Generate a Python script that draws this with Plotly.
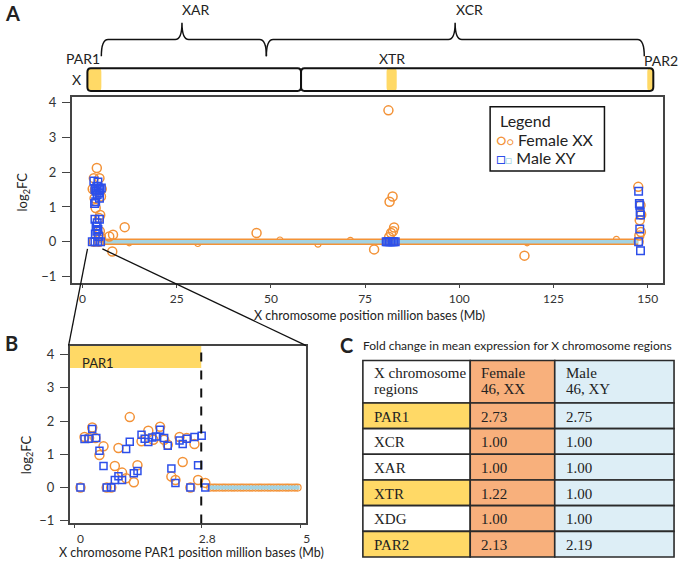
import plotly.graph_objects as go

W, H = 685, 564

# ---------------- data ----------------
# Panel A: whole X chromosome (Mb, log2FC)
a_female_x = [3.8, 3.0, 4.5, 2.7, 3.3, 5.1, 4.9, 3.2, 3.5, 4.7, 4.4, 4.6, 4.3, 4.9, 7.1, 8.1, 11.2, 7.9, 3.0, 4.4,
              81.2, 82.3, 81.5, 82.7, 82.4, 81.9, 81.4, 77.4, 46.2, 117.3,
              147.5, 148.1, 148.3, 147.9, 148.2, 147.8, 147.6]
a_female_y = [2.12, 1.83, 1.83, 1.52, 1.50, 1.52, 1.30, 1.25, 0.97, 0.77, 0.68, 0.30, 0.20, 0.12, 0.15, 0.20, 0.42, -0.28, 0, 0,
              3.78, 1.30, 1.15, 0.41, 0.30, 0.25, 0.14, -0.22, 0.25, -0.40,
              1.58, 1.05, 0.78, 0.62, 0.28, 0.18, 0.0]
a_male_x = [3.0, 4.1, 3.3, 3.6, 4.2, 4.6, 5.0, 3.9, 4.5, 3.5, 3.2, 4.4, 3.8, 3.3, 4.5, 3.9, 3.6, 4.1, 3.4, 4.3, 3.8,
            2.6, 3.3, 4.0, 4.8,
            80.6, 81.0, 81.4, 81.8, 82.2, 82.6, 83.0,
            147.6, 147.8, 147.9, 148.0, 148.1, 147.9, 147.6, 148.1]
a_male_y = [1.75, 1.72, 1.50, 1.45, 1.55, 1.50, 1.55, 1.35, 1.25, 1.15, 1.10, 1.40, 1.60, 0.65, 0.65, 0.55, 0.45, 0.35, 0.22, 0.15, 0.30,
            0, 0, 0, 0,
            0, 0, 0, 0, 0, 0, 0,
            1.45, 1.10, 1.05, 0.85, 0.77, 0.37, 0, -0.26]
a_small_x = [12.4, 30.6, 52.4, 62.5, 71.1, 118.0, 141.7]
a_small_y = [-0.03, -0.05, 0.05, -0.07, 0.04, -0.03, 0.07]
band_x = [5.3, 147.5]   # genes with log2FC = 0 (dense band)
band_y = [0, 0]

# Panel B: PAR1 zoom
b_female_x = [0.13, 0.22, 0.32, 0.39, 0.46, 0.55, 0.64, 0.71, 0.81, 0.89, 0.97, 1.05, 1.14, 1.22, 1.31, 1.39,
              1.48, 1.63, 1.74, 1.89, 1.98, 2.06, 2.14, 2.23, 2.32, 2.39, 2.48, 2.56, 2.65, 2.73, 2.89]
b_female_y = [0, 1.52, 1.49, 1.81, 1.49, 0.98, 1.24, 0, 0, 0.65, 1.19, 0.45, 0.28, 2.12, 0.16, 0.67,
              1.39, 1.71, 1.44, 1.83, 1.44, 1.29, 0.33, 0.23, 1.52, 0.77, 1.49, 0, 1.31, 0.23, 0.14]
b_male_x = [0.13, 0.22, 0.31, 0.39, 0.48, 0.55, 0.64, 0.71, 0.81, 0.89, 0.97, 1.05, 1.14, 1.22, 1.31, 1.39, 1.48,
            1.55, 1.63, 1.72, 1.80, 1.89, 1.98, 2.06, 2.14, 2.23, 2.32, 2.39, 2.48, 2.56, 2.65, 2.73, 2.81, 2.89]
b_male_y = [0, 1.46, 1.47, 1.76, 1.49, 1.11, 0.65, 0, 0, 0.23, 0.34, 0.23, 1.16, 1.38, 0.43, 0.50, 1.59,
            1.47, 1.37, 1.51, 1.54, 1.74, 1.49, 1.26, 0.57, 0.14, 1.42, 1.31, 1.47, 0, 1.52, 0.67, 1.56, 0]
b_zero_x = [3.00, 3.07, 3.13, 3.20, 3.27, 3.33, 3.40, 3.47, 3.53, 3.60, 3.67, 3.73, 3.80, 3.87, 3.93,
            4.00, 4.07, 4.13, 4.20, 4.27, 4.33, 4.40, 4.47, 4.53, 4.60, 4.67, 4.73, 4.80, 4.87, 4.93]
b_zero_y = [0] * len(b_zero_x)
par1_end = 2.8

# Ideogram regions (Mb)
chrom_start, centromere, chrom_end = 1.3, 58.0, 151.5
yellow_regions = [(1.3, 5.0), (80.7, 83.4), (149.9, 151.5)]
brace_names = ["XAR", "XCR"]
brace_start = [5.0, 48.8]
brace_end = [48.8, 149.1]
brace_tip = [26.4, 98.9]

# Panel C table
table_header = [["X chromosome", "regions"], ["Female", "46, XX"], ["Male", "46, XY"]]
regions = ["PAR1", "XCR", "XAR", "XTR", "XDG", "PAR2"]
female_fc = [2.73, 1.00, 1.00, 1.22, 1.00, 2.13]
male_fc = [2.75, 1.00, 1.00, 1.00, 1.00, 2.19]

# ---------------- styling ----------------
ORANGE = "#F39237"
BLUE = "#2D4FEA"
LBLUE = "#A3D3E3"
YELLOW = "#FFD966"
CELL_OR = "#F8B07C"
CELL_BL = "#DDEEF6"
FONT = "Lato"
SERIF = "Liberation Serif"


def fx(px):
    return px / W


def fy(py):
    return 1 - py / H


fig = go.Figure()

# Panel A traces
fig.add_trace(go.Scatter(x=a_small_x, y=a_small_y, mode="markers", xaxis="x", yaxis="y",
                         marker=dict(symbol="circle-open", size=6, color=ORANGE, line=dict(width=1.2))))
fig.add_trace(go.Scatter(x=band_x, y=band_y, mode="lines", xaxis="x", yaxis="y",
                         line=dict(color=ORANGE, width=6.5)))
fig.add_trace(go.Scatter(x=band_x, y=band_y, mode="lines", xaxis="x", yaxis="y",
                         line=dict(color=LBLUE, width=3.5)))
fig.add_trace(go.Scatter(x=a_female_x, y=a_female_y, mode="markers", xaxis="x", yaxis="y",
                         marker=dict(symbol="circle-open", size=9, color=ORANGE, line=dict(width=1.5))))
fig.add_trace(go.Scatter(x=a_male_x, y=a_male_y, mode="markers", xaxis="x", yaxis="y",
                         marker=dict(symbol="square-open", size=7.5, color=BLUE, line=dict(width=1.5))))

# Panel B traces
fig.add_trace(go.Scatter(x=b_zero_x, y=b_zero_y, mode="markers", xaxis="x2", yaxis="y2",
                         marker=dict(symbol="circle-open", size=7, color=ORANGE, line=dict(width=1.2))))
fig.add_trace(go.Scatter(x=b_zero_x, y=b_zero_y, mode="markers", xaxis="x2", yaxis="y2",
                         marker=dict(symbol="square", size=4, color=LBLUE)))
fig.add_trace(go.Scatter(x=b_female_x, y=b_female_y, mode="markers", xaxis="x2", yaxis="y2",
                         marker=dict(symbol="circle-open", size=9, color=ORANGE, line=dict(width=1.5))))
fig.add_trace(go.Scatter(x=b_male_x, y=b_male_y, mode="markers", xaxis="x2", yaxis="y2",
                         marker=dict(symbol="square-open", size=7, color=BLUE, line=dict(width=1.5))))

axis_common = dict(showline=True, mirror=True, linecolor="#444", linewidth=1.5, ticks="outside",
                   tickcolor="#444", showgrid=False, zeroline=False,
                   tickfont=dict(family=FONT, size=13, color="#333"))
small_x_axis = dict(axis_common, tickfont=dict(family=FONT, size=12, color="#333"))

fig.update_layout(
    width=W, height=H, margin=dict(l=0, r=0, t=0, b=0),
    paper_bgcolor="white", plot_bgcolor="white", showlegend=False,
    font=dict(family=FONT, color="#222"),
    xaxis=dict(domain=[fx(72), fx(667)], range=[-2.9, 154.1], tickvals=[0, 25, 50, 75, 100, 125, 150],
               anchor="y", ticklen=3, **small_x_axis),
    yaxis=dict(domain=[fy(285), fy(96)], range=[-1.2, 4.17], tickvals=[-1, 0, 1, 2, 3, 4],
               anchor="x", ticklen=8, ticklabelstandoff=3, **axis_common),
    xaxis2=dict(domain=[fx(70), fx(308)], range=[-0.11, 5.12], tickvals=[0, par1_end, 5],
                ticktext=["0", "2.8", "5"], anchor="y2", ticklen=3,
                ticklabelshift=6, **small_x_axis),
    yaxis2=dict(domain=[fy(528), fy(348)], range=[-1.08, 4.27], tickvals=[-1, 0, 1, 2, 3, 4],
                anchor="x2", ticklen=8, ticklabelstandoff=3, **axis_common),
)


def rrect(x0, x1, y0, y1, rx=0.9, ry=0.007):
    return (f"M{x0 + rx},{y0} L{x1 - rx},{y0} Q{x1},{y0} {x1},{y0 + ry} L{x1},{y1 - ry} "
            f"Q{x1},{y1} {x1 - rx},{y1} L{x0 + rx},{y1} Q{x0},{y1} {x0},{y1 - ry} "
            f"L{x0},{y0 + ry} Q{x0},{y0} {x0 + rx},{y0} Z")


shapes = []
ann = []


def txt(x, y, t, size=13, xref="paper", yref="paper", xanchor="center", family=FONT, **kw):
    ann.append(dict(x=x, y=y, text=t, xref=xref, yref=yref, showarrow=False, xanchor=xanchor,
                    yanchor="middle", font=dict(family=family, size=size, color="#222"), **kw))


# ideogram
ib, it = fy(90), fy(67)
for s, e in yellow_regions:
    shapes.append(dict(type="path", xref="x", yref="paper", path=rrect(s, e, ib, it, rx=0.6),
                       fillcolor=YELLOW, line=dict(width=0)))
for s, e in [(chrom_start, centromere), (centromere, chrom_end)]:
    shapes.append(dict(type="path", xref="x", yref="paper", path=rrect(s, e, ib, it),
                       line=dict(color="#111", width=2)))

# region braces
yh, ye, yt, d = fy(38), fy(55), fy(21), 1.8
for s, e, m in zip(brace_start, brace_end, brace_tip):
    p = (f"M{s},{ye} Q{s},{yh} {s + d},{yh} L{m - d},{yh} Q{m},{yh} {m},{yt} "
         f"Q{m},{yh} {m + d},{yh} L{e - d},{yh} Q{e},{yh} {e},{ye}")
    shapes.append(dict(type="path", xref="x", yref="paper", path=p, line=dict(color="#111", width=1.5)))

# Panel B: PAR1 band and boundary
shapes.append(dict(type="rect", xref="x2", yref="y2", x0=-0.11, x1=par1_end, y0=3.6, y1=4.27,
                   fillcolor=YELLOW, line=dict(width=0), layer="below"))
shapes.append(dict(type="line", xref="x2", yref="y2", x0=par1_end, x1=par1_end, y0=-1.08, y1=4.27,
                   line=dict(color="#111", width=2, dash="dash")))

# zoom connector lines
shapes.append(dict(type="line", xref="paper", yref="paper", x0=fx(88), y0=fy(250), x1=fx(69), y1=fy(348),
                   line=dict(color="#111", width=1.3)))
shapes.append(dict(type="line", xref="paper", yref="paper", x0=fx(103), y0=fy(250), x1=fx(308), y1=fy(348),
                   line=dict(color="#111", width=1.3)))

# legend box
shapes.append(dict(type="rect", xref="paper", yref="paper", x0=fx(493), x1=fx(608), y0=fy(171), y1=fy(106),
                   line=dict(color="#111", width=1.5), fillcolor="white", layer="below"))

# Panel C table (cells drawn as rectangles + text)
col_edges = [365, 473, 558, 678]
row_edges = [363, 406, 432, 458, 484, 510, 536, 562]
body = [regions, [f"{v:.2f}" for v in female_fc], [f"{v:.2f}" for v in male_fc]]
for c in range(3):
    x0, x1 = col_edges[c], col_edges[c + 1]
    for r in range(len(row_edges) - 1):
        y0, y1 = row_edges[r], row_edges[r + 1]
        if c == 0:
            fill = "white" if r == 0 or regions[r - 1] not in ("PAR1", "XTR", "PAR2") else YELLOW
        else:
            fill = CELL_OR if c == 1 else CELL_BL
        shapes.append(dict(type="rect", xref="paper", yref="paper", x0=fx(x0), x1=fx(x1),
                           y0=fy(y1), y1=fy(y0), fillcolor=fill, line=dict(color="#2a2a2a", width=1.6),
                           layer="below"))
        if r == 0:
            for k, line in enumerate(table_header[c]):
                txt(fx(x0 + 9), fy(y0 + 13 + 16 * k), line, size=15, xanchor="left", family=SERIF)
        else:
            txt(fx(x0 + 9), fy((y0 + y1) / 2 + 1), body[c][r - 1], size=15, xanchor="left", family=SERIF)

fig.update_layout(shapes=shapes)

txt(fx(3), fy(11), "<b>A</b>", size=20, xanchor="left")
txt(fx(3), fy(345), "<b>B</b>", size=20, xanchor="left")
txt(fx(340), fy(347), "<b>C</b>", size=20, xanchor="left")
txt(fx(363), fy(348), "Fold change in mean expression for X chromosome regions", size=12, xanchor="left")

for n, m in zip(brace_names, brace_tip):
    txt(m, fy(8), n, size=14, xref="x", xshift=14)
txt(fx(83), fy(57), "PAR1", size=14)
txt((yellow_regions[1][0] + yellow_regions[1][1]) / 2, fy(57), "XTR", size=14, xref="x")
txt(fx(684), fy(59), "PAR2", size=14, xanchor="right")
txt(fx(77), fy(78), "X", size=14)

txt(fx(23), fy(192), "log<sub>2</sub>FC", size=13, textangle=-90)
txt(fx(372), fy(317), "X chromosome position million bases (Mb)", size=12.5)
txt(fx(27), fy(458), "log<sub>2</sub>FC", size=13, textangle=-90)
txt(fx(193), fy(557.5), "X chromosome PAR1 position million bases (Mb)", size=12.5)
txt(0.12, 3.74, "PAR1", size=13, xref="x2", yref="y2", xanchor="left")

# legend content
txt(fx(501), fy(120), "Legend", size=16, xanchor="left")
txt(fx(497), fy(139),
    f'<span style="color:{ORANGE}">○</span><span style="color:{ORANGE};font-size:11px">○</span> Female XX',
    size=16, xanchor="left")
txt(fx(497), fy(157),
    f'<span style="color:{BLUE}">□</span><span style="color:{LBLUE};font-size:11px">□</span> Male XY',
    size=16, xanchor="left")

fig.update_layout(annotations=ann)

fig.write_html("out.html", config={"displayModeBar": False},
               post_script="document.body.style.margin='0';")
